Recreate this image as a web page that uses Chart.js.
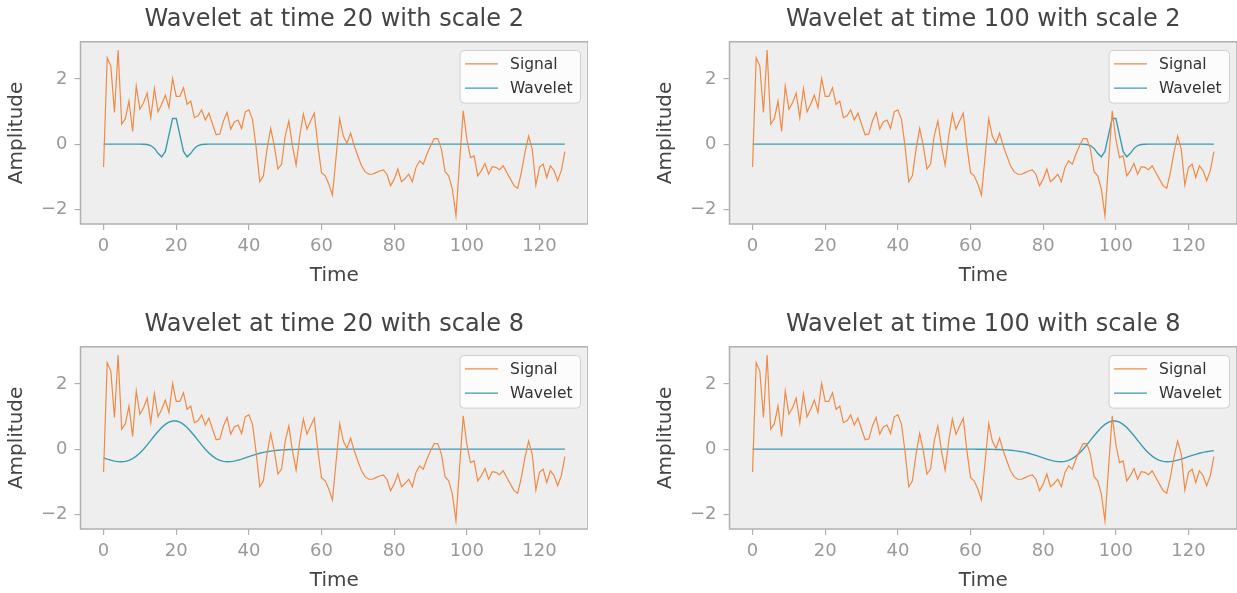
<!DOCTYPE html>
<html>
<head>
<meta charset="utf-8">
<title>Wavelets</title>
<script src="https://cdn.jsdelivr.net/npm/chart.js@4.4.1/dist/chart.umd.min.js"></script>
<style>
  body { margin: 0; background: #fff; }
  #fig { position: relative; width: 1237px; height: 593px; overflow: hidden; }
  #fig canvas { position: absolute; }
</style>
</head>
<body>
<div id="fig">
  <canvas id="c0" width="588" height="288" style="left:0;top:0"></canvas>
  <canvas id="c1" width="588" height="288" style="left:649px;top:0"></canvas>
  <canvas id="c2" width="588" height="288" style="left:0;top:305px"></canvas>
  <canvas id="c3" width="588" height="288" style="left:649px;top:305px"></canvas>
</div>
<script>
// signal samples, one per time step
const signal = [
  -0.70, 2.65, 2.39, 0.97, 2.88, 0.61, 0.78, 1.32, 0.39, 1.78, 1.07, 1.27, 1.56, 0.81, 1.70, 0.99,
  1.22, 1.50, 1.12, 2.01, 1.46, 1.46, 1.73, 1.22, 1.32, 0.81, 0.87, 1.05, 0.74, 0.95, 0.61, 0.29,
  0.31, 0.71, 0.97, 0.46, 0.68, 0.74, 0.48, 0.99, 1.05, 0.76, -0.10, -1.15, -0.97, -0.15, 0.48, -0.05,
  -0.76, -0.61, 0.25, 0.71, -0.05, -0.64, 0.25, 0.92, 0.46, 0.71, 0.95, -0.05, -0.87, -0.97, -1.22, -1.56,
  -0.40, 0.78, 0.25, 0.02, 0.34, -0.05, -0.36, -0.66, -0.84, -0.92, -0.92, -0.87, -0.82, -0.79, -0.92, -1.27,
  -1.07, -0.76, -1.15, -1.05, -0.92, -1.15, -0.71, -0.51, -0.61, -0.31, -0.05, 0.17, 0.17, -0.15, -0.84, -0.97,
  -1.37, -2.19, -0.56, 1.02, 0.15, -0.41, -0.36, -0.97, -0.81, -0.59, -0.92, -0.69, -0.71, -0.78, -0.66, -0.87,
  -1.07, -1.27, -1.35, -0.87, -0.25, 0.25, -0.15, -1.25, -0.71, -0.61, -1.02, -0.66, -0.81, -1.12, -0.81, -0.23
];

// wavelet centred at time 20, scale 2
const waveletT20S2 = [
  0, 0, 0, 0, 0, 0, 0, 0, 0, 0, 0, -0.002, -0.010, -0.042, -0.130, -0.280,
  -0.387, -0.223, 0.286, 0.788, 0.788, 0.286, -0.223, -0.387, -0.280, -0.130, -0.042, -0.010, -0.002, 0, 0, 0,
  0, 0, 0, 0, 0, 0, 0, 0, 0, 0, 0, 0, 0, 0, 0, 0,
  0, 0, 0, 0, 0, 0, 0, 0, 0, 0, 0, 0, 0, 0, 0, 0,
  0, 0, 0, 0, 0, 0, 0, 0, 0, 0, 0, 0, 0, 0, 0, 0,
  0, 0, 0, 0, 0, 0, 0, 0, 0, 0, 0, 0, 0, 0, 0, 0,
  0, 0, 0, 0, 0, 0, 0, 0, 0, 0, 0, 0, 0, 0, 0, 0,
  0, 0, 0, 0, 0, 0, 0, 0, 0, 0, 0, 0, 0, 0, 0, 0
];

// wavelet centred at time 100, scale 2
const waveletT100S2 = [
  0, 0, 0, 0, 0, 0, 0, 0, 0, 0, 0, 0, 0, 0, 0, 0,
  0, 0, 0, 0, 0, 0, 0, 0, 0, 0, 0, 0, 0, 0, 0, 0,
  0, 0, 0, 0, 0, 0, 0, 0, 0, 0, 0, 0, 0, 0, 0, 0,
  0, 0, 0, 0, 0, 0, 0, 0, 0, 0, 0, 0, 0, 0, 0, 0,
  0, 0, 0, 0, 0, 0, 0, 0, 0, 0, 0, 0, 0, 0, 0, 0,
  0, 0, 0, 0, 0, 0, 0, 0, 0, 0, 0, -0.002, -0.010, -0.042, -0.130, -0.280,
  -0.387, -0.223, 0.286, 0.788, 0.788, 0.286, -0.223, -0.387, -0.280, -0.130, -0.042, -0.010, -0.002, 0, 0, 0,
  0, 0, 0, 0, 0, 0, 0, 0, 0, 0, 0, 0, 0, 0, 0, 0
];

// wavelet centred at time 20, scale 8
const waveletT20S8 = [
  -0.266, -0.303, -0.337, -0.365, -0.382, -0.387, -0.374, -0.342, -0.288, -0.213, -0.116, 0, 0.130, 0.269, 0.409, 0.542,
  0.661, 0.758, 0.827, 0.862, 0.862, 0.827, 0.758, 0.661, 0.542, 0.409, 0.269, 0.130, 0, -0.116, -0.213, -0.288,
  -0.342, -0.374, -0.387, -0.382, -0.365, -0.337, -0.303, -0.266, -0.228, -0.191, -0.157, -0.126, -0.099, -0.077, -0.059, -0.044,
  -0.032, -0.023, -0.016, -0.012, -0.008, -0.005, -0.004, -0.002, -0.001, -0.001, 0, 0, 0, 0, 0, 0,
  0, 0, 0, 0, 0, 0, 0, 0, 0, 0, 0, 0, 0, 0, 0, 0,
  0, 0, 0, 0, 0, 0, 0, 0, 0, 0, 0, 0, 0, 0, 0, 0,
  0, 0, 0, 0, 0, 0, 0, 0, 0, 0, 0, 0, 0, 0, 0, 0,
  0, 0, 0, 0, 0, 0, 0, 0, 0, 0, 0, 0, 0, 0, 0, 0
];

// wavelet centred at time 100, scale 8
const waveletT100S8 = [
  0, 0, 0, 0, 0, 0, 0, 0, 0, 0, 0, 0, 0, 0, 0, 0,
  0, 0, 0, 0, 0, 0, 0, 0, 0, 0, 0, 0, 0, 0, 0, 0,
  0, 0, 0, 0, 0, 0, 0, 0, 0, 0, 0, 0, 0, 0, 0, 0,
  0, 0, 0, 0, 0, 0, 0, 0, 0, 0, 0, 0, 0, 0, -0.001, -0.001,
  -0.002, -0.004, -0.005, -0.008, -0.012, -0.016, -0.023, -0.032, -0.044, -0.059, -0.077, -0.099, -0.126, -0.157, -0.191, -0.228,
  -0.266, -0.303, -0.337, -0.365, -0.382, -0.387, -0.374, -0.342, -0.288, -0.213, -0.116, 0, 0.130, 0.269, 0.409, 0.542,
  0.661, 0.758, 0.827, 0.862, 0.862, 0.827, 0.758, 0.661, 0.542, 0.409, 0.269, 0.130, 0, -0.116, -0.213, -0.288,
  -0.342, -0.374, -0.387, -0.382, -0.365, -0.337, -0.303, -0.266, -0.228, -0.191, -0.157, -0.126, -0.099, -0.077, -0.059, -0.044
];

const panelTitles = [
  'Wavelet at time 20 with scale 2',
  'Wavelet at time 100 with scale 2',
  'Wavelet at time 20 with scale 8',
  'Wavelet at time 100 with scale 8'
];
const panelWavelets = [waveletT20S2, waveletT100S2, waveletT20S8, waveletT100S8];

const xTicks = [0, 20, 40, 60, 80, 100, 120];
const yTicks = [-2, 0, 2];
const seriesLabels = ['Signal', 'Wavelet'];

const timeSteps = Array.from({ length: signal.length }, (_, i) => i);

const FONT = '"DejaVu Sans", "Liberation Sans", sans-serif';
const SIGNAL_COLOR = '#f08a44';
const WAVELET_COLOR = '#3c9bb2';

// axis limits with a 5% margin like matplotlib autoscale
var allValues = signal.concat(...panelWavelets);
var yLo = Math.min(...allValues), yHi = Math.max(...allValues);
var yPad = (yHi - yLo) * 0.05;
var xPad = (timeSteps[timeSteps.length - 1] - timeSteps[0]) * 0.05;

function toXY(values) {
  return values.map((v, i) => ({ x: timeSteps[i], y: v }));
}

function fmtTick(v) {
  return v < 0 ? '\u2212' + Math.abs(v) : String(v);
}

function roundedBox(ctx, x, y, w, h, r) {
  ctx.beginPath();
  ctx.moveTo(x + r, y);
  ctx.arcTo(x + w, y, x + w, y + h, r);
  ctx.arcTo(x + w, y + h, x, y + h, r);
  ctx.arcTo(x, y + h, x, y, r);
  ctx.arcTo(x, y, x + w, y, r);
  ctx.closePath();
}

// grey axes background and the box round it
const axesFrame = {
  id: 'axesFrame',
  beforeDraw(chart) {
    const { ctx, chartArea: a } = chart;
    ctx.save();
    ctx.fillStyle = '#eeeeee';
    ctx.fillRect(a.left, a.top, a.right - a.left, a.bottom - a.top);
    ctx.restore();
  },
  afterDatasetsDraw(chart) {
    const { ctx, chartArea: a } = chart;
    ctx.save();
    ctx.strokeStyle = '#b0b0b0';
    ctx.lineWidth = 1.5;
    ctx.strokeRect(a.left, a.top, a.right - a.left, a.bottom - a.top);
    ctx.restore();
  }
};

// legend box in the upper right corner of the axes
const insideLegend = {
  id: 'insideLegend',
  afterDraw(chart) {
    const { ctx, chartArea: a } = chart;
    const sets = chart.data.datasets;
    ctx.save();
    ctx.font = '15.5px ' + FONT;
    const textW = Math.max(...sets.map(d => ctx.measureText(d.label).width));
    const rowH = 24.3;
    const w = 5 + 33 + 12 + textW + 8;
    const h = 13.3 + rowH * (sets.length - 1) + 15;
    const x = a.right - 7.5 - w;
    const y = a.top + 8.7;
    roundedBox(ctx, x, y, w, h, 4);
    ctx.fillStyle = 'rgba(255,255,255,0.8)';
    ctx.fill();
    ctx.strokeStyle = '#d0d0d0';
    ctx.lineWidth = 1;
    ctx.stroke();
    sets.forEach((d, i) => {
      const cy = y + 13.3 + i * rowH;
      ctx.beginPath();
      ctx.moveTo(x + 5, cy);
      ctx.lineTo(x + 38, cy);
      ctx.strokeStyle = d.borderColor;
      ctx.lineWidth = d.borderWidth;
      ctx.stroke();
      ctx.fillStyle = '#333333';
      ctx.textBaseline = 'middle';
      ctx.textAlign = 'left';
      ctx.fillText(d.label, x + 50, cy + 1);
    });
    ctx.restore();
  }
};

function makeChart(id, title, wavelet) {
  return new Chart(document.getElementById(id), {
    type: 'line',
    data: {
      datasets: [
        { label: seriesLabels[0], data: toXY(signal), borderColor: SIGNAL_COLOR, borderWidth: 1.2, pointRadius: 0, tension: 0 },
        { label: seriesLabels[1], data: toXY(wavelet), borderColor: WAVELET_COLOR, borderWidth: 1.4, pointRadius: 0, tension: 0 }
      ]
    },
    options: {
      responsive: false,
      animation: false,
      devicePixelRatio: 1,
      events: [],
      layout: { padding: 0 },
      plugins: {
        legend: { display: false },
        tooltip: { enabled: false },
        title: {
          display: true,
          fullSize: false,
          text: title,
          color: '#444444',
          font: { family: FONT, size: 24, weight: 'normal' },
          padding: { top: 5, bottom: 8 }
        }
      },
      scales: {
        x: {
          type: 'linear',
          min: timeSteps[0] - xPad,
          max: timeSteps[timeSteps.length - 1] + xPad,
          afterFit: s => { s.height = 64; },
          afterBuildTicks: s => { s.ticks = xTicks.map(v => ({ value: v })); },
          border: { display: false },
          grid: { drawOnChartArea: false, drawTicks: true, tickLength: 6, color: '#b0b0b0', lineWidth: 1.2 },
          ticks: { color: '#9a9a9a', font: { family: FONT, size: 18 }, padding: 6, maxRotation: 0, callback: fmtTick },
          title: { display: true, text: 'Time', color: '#444444', font: { family: FONT, size: 20 }, padding: { top: 0, bottom: 0 } }
        },
        y: {
          min: yLo - yPad,
          max: yHi + yPad,
          afterFit: s => { s.width = 80.5; },
          afterBuildTicks: s => { s.ticks = yTicks.map(v => ({ value: v })); },
          border: { display: false },
          grid: { drawOnChartArea: false, drawTicks: true, tickLength: 6, color: '#b0b0b0', lineWidth: 1.2 },
          ticks: { color: '#9a9a9a', font: { family: FONT, size: 18 }, padding: 7, callback: fmtTick },
          title: { display: true, text: 'Amplitude', color: '#444444', font: { family: FONT, size: 20 }, padding: { top: 5, bottom: 0 } }
        }
      }
    },
    plugins: [axesFrame, insideLegend]
  });
}

panelTitles.forEach((t, i) => makeChart('c' + i, t, panelWavelets[i]));
</script>
</body>
</html>
